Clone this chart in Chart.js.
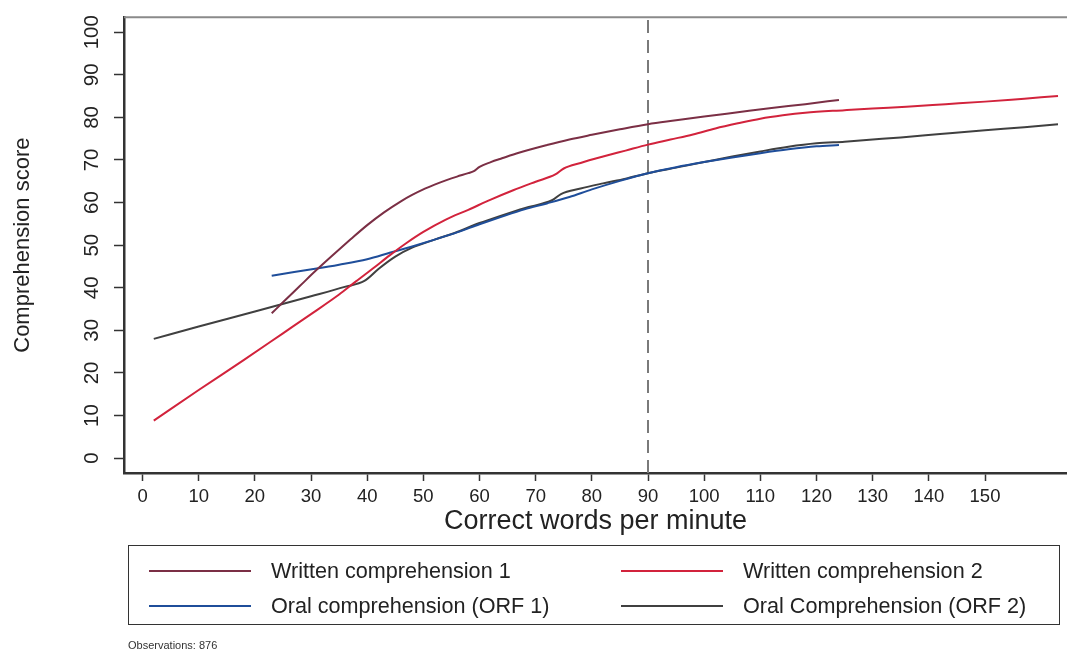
<!DOCTYPE html>
<html>
<head>
<meta charset="utf-8">
<script src="https://cdn.jsdelivr.net/npm/chart.js@4.4.0/dist/chart.umd.min.js"></script>
<style>
  html, body { margin: 0; padding: 0; background: #fff; }
  body { width: 1067px; height: 652px; position: relative; overflow: hidden; font-family: "Liberation Sans", Arial, sans-serif; color: #222; }
  #wrap { position: absolute; left: 0; top: 0; width: 1067px; height: 652px; }
  #legend { position: absolute; left: 128px; top: 545px; width: 932px; height: 80px; border: 1.5px solid #333; box-sizing: border-box; }
  .item { position: absolute; font-size: 21.6px; line-height: 24px; white-space: nowrap; }
  .sw { position: absolute; height: 2px; width: 102px; }
  #note { position: absolute; left: 128px; top: 639px; font-size: 11px; color: #333; }
</style>
</head>
<body>
<div id="wrap"><canvas id="chart" width="1067" height="652"></canvas></div>
<div id="legend"></div>
<div id="note">Observations: 876</div>
<script>
// Tick labels
const xTicks = [0, 10, 20, 30, 40, 50, 60, 70, 80, 90, 100, 110, 120, 130, 140, 150];
const yTicks = [0, 10, 20, 30, 40, 50, 60, 70, 80, 90, 100];
const cutoff = 90;

// Written comprehension 1
const w1X = [23, 25, 28, 31, 34, 37, 40, 43, 46, 48, 50, 52, 54, 56, 58, 59, 60, 62, 64, 67, 72, 76, 80, 85, 90, 95, 100, 106, 112, 118, 124];
const w1Y = [34.0, 36.6, 40.4, 44.2, 47.8, 51.3, 54.7, 57.7, 60.3, 61.8, 63.1, 64.2, 65.2, 66.1, 66.9, 67.4, 68.4, 69.5, 70.4, 71.7, 73.5, 74.8, 75.9, 77.2, 78.4, 79.3, 80.2, 81.2, 82.2, 83.1, 84.1];

// Written comprehension 2
const w2X = [2, 10, 18, 25, 30, 35, 38, 41, 44, 47, 50, 54, 58, 62, 66, 70, 73.5, 75, 78, 82, 86, 90, 94, 98, 102, 106, 110, 114, 118, 125, 130, 136, 143, 150, 157, 163];
const w2Y = [8.8, 16.0, 23.0, 29.3, 33.8, 38.4, 41.5, 44.5, 47.6, 50.5, 53.1, 56.0, 58.3, 60.7, 62.9, 64.9, 66.6, 68.0, 69.3, 70.8, 72.2, 73.6, 74.8, 76.0, 77.4, 78.6, 79.7, 80.5, 81.1, 81.7, 82.1, 82.5, 83.1, 83.7, 84.4, 85.0];

// Oral comprehension (ORF 1)
const o1X = [23, 27, 31, 35, 40, 44, 48, 52, 56, 60, 64, 68, 72, 76, 80, 85, 90, 95, 100, 105, 110, 115, 120, 124];
const o1Y = [42.8, 43.7, 44.5, 45.4, 46.7, 48.2, 49.7, 51.3, 53.0, 54.9, 56.7, 58.4, 59.8, 61.3, 63.1, 65.1, 66.9, 68.3, 69.5, 70.6, 71.6, 72.5, 73.2, 73.5];

// Oral Comprehension (ORF 2)
const o2X = [2, 10, 20, 30, 36, 39.5, 42, 45, 48, 52, 56, 60, 64, 68, 73, 74.5, 78, 82, 86, 90, 95, 100, 105, 110, 115, 120, 125, 130, 135, 142, 150, 157, 163];
const o2Y = [28.0, 30.9, 34.4, 38.0, 40.2, 41.6, 44.4, 47.3, 49.4, 51.3, 53.1, 55.2, 57.0, 58.7, 60.6, 62.0, 63.3, 64.5, 65.6, 66.9, 68.2, 69.5, 70.8, 72.0, 73.1, 73.9, 74.3, 74.8, 75.3, 76.1, 77.0, 77.7, 78.4];

const seriesNames = ['Written comprehension 1', 'Written comprehension 2', 'Oral comprehension (ORF 1)', 'Oral Comprehension (ORF 2)'];
const seriesColors = ['#7b2f45', '#d2233c', '#1f4e9a', '#404040'];

const toPts = (xs, ys) => xs.map((x, i) => ({ x: x, y: ys[i] }));
const allSeries = [toPts(w1X, w1Y), toPts(w2X, w2Y), toPts(o1X, o1Y), toPts(o2X, o2Y)];

const X_MIN = -3.3, X_MAX = 164.6, Y_MIN = -3.5, Y_MAX = 103.5;

const datasets = allSeries.map((pts, i) => ({
  label: seriesNames[i],
  data: pts,
  borderColor: seriesColors[i],
  borderWidth: 2,
  pointRadius: 0,
  showLine: true,
  fill: false,
  cubicInterpolationMode: 'monotone'
}));

// dashed reference line
datasets.push({
  label: 'cutoff',
  data: [{ x: cutoff, y: Y_MIN }, { x: cutoff, y: Y_MAX }],
  borderColor: '#7a7a7a',
  borderWidth: 2,
  borderDash: [13, 7],
  pointRadius: 0,
  showLine: true
});

// thin frame line along the top of the plot region
const topFrame = {
  id: 'topFrame',
  afterDraw(chart) {
    const { ctx, chartArea } = chart;
    ctx.save();
    ctx.strokeStyle = '#8a8a8a';
    ctx.lineWidth = 2;
    ctx.beginPath();
    ctx.moveTo(chartArea.left, chartArea.top);
    ctx.lineTo(chartArea.right, chartArea.top);
    ctx.stroke();
    ctx.restore();
  }
};

new Chart(document.getElementById('chart'), {
  type: 'scatter',
  data: { datasets },
  plugins: [topFrame],
  options: {
    responsive: false,
    animation: false,
    layout: { padding: { top: 15, right: 0, bottom: 109, left: 0 } },
    plugins: { legend: { display: false }, tooltip: { enabled: false } },
    scales: {
      x: {
        type: 'linear',
        min: X_MIN,
        max: X_MAX,
        afterBuildTicks: s => { s.ticks = xTicks.map(v => ({ value: v })); },
        afterFit: s => { s.height = 70; },
        grid: { drawOnChartArea: false, drawTicks: true, tickLength: 8, tickWidth: 1.5, color: '#333' },
        border: { display: true, color: '#333', width: 2.5 },
        ticks: { color: '#222', padding: 5, font: { family: 'Liberation Sans', size: 18.5 } },
        title: { display: true, text: 'Correct words per minute', color: '#222', padding: { top: 0, bottom: 5 }, font: { family: 'Liberation Sans', size: 27 } }
      },
      y: {
        min: Y_MIN,
        max: Y_MAX,
        afterBuildTicks: s => { s.ticks = yTicks.map(v => ({ value: v })); },
        afterFit: s => { s.width = 124; },
        grid: { drawOnChartArea: false, drawTicks: true, tickLength: 10, tickWidth: 1.5, color: '#333' },
        border: { display: true, color: '#333', width: 2.5 },
        ticks: { color: '#222', padding: 5, minRotation: 90, maxRotation: 90, crossAlign: 'center', font: { family: 'Liberation Sans', size: 20.5 } },
        title: { display: true, text: 'Comprehension score', color: '#222', padding: { top: 10, bottom: 0 }, font: { family: 'Liberation Sans', size: 22 } }
      }
    }
  }
});

// legend box
const legend = document.getElementById('legend');
const slots = [[20, 142, 25], [492, 614, 25], [20, 142, 60], [492, 614, 60]];
seriesNames.forEach((name, i) => {
  const [sx, tx, cy] = slots[i];
  const sw = document.createElement('div');
  sw.className = 'sw';
  sw.style.left = sx + 'px';
  sw.style.top = (cy - 1) + 'px';
  sw.style.background = seriesColors[i];
  legend.appendChild(sw);
  const t = document.createElement('div');
  t.className = 'item';
  t.style.left = tx + 'px';
  t.style.top = (cy - 12) + 'px';
  t.textContent = name;
  legend.appendChild(t);
});
</script>
</body>
</html>
